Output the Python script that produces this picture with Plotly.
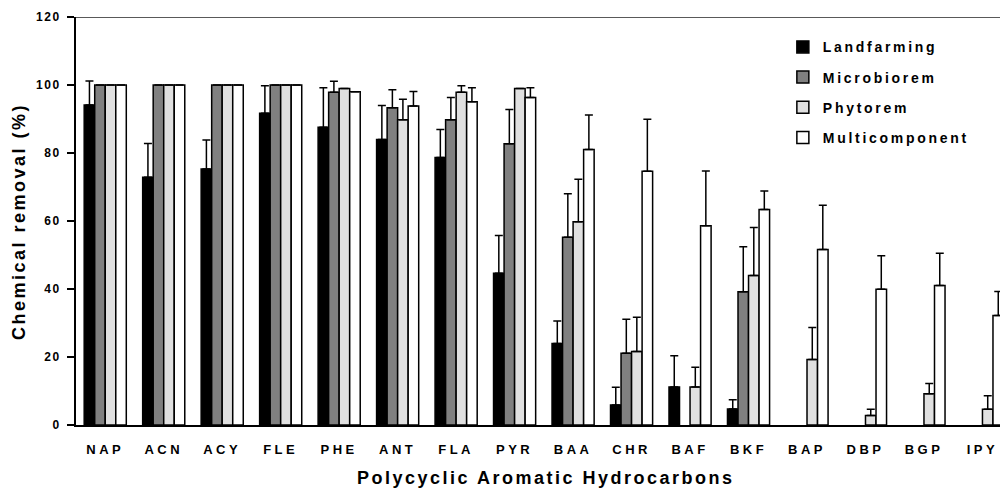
import plotly.graph_objects as go

categories = ["NAP", "ACN", "ACY", "FLE", "PHE", "ANT", "FLA", "PYR",
              "BAA", "CHR", "BAF", "BKF", "BAP", "DBP", "BGP", "IPY"]

landfarming = [94.1, 72.9, 75.3, 91.7, 87.6, 84.0, 78.7, 44.6,
               24.0, 5.9, 11.2, 4.7, None, None, None, None]
landfarming_err = [7.1, 9.9, 8.5, 8.1, 11.6, 10.0, 8.2, 11.1,
                   6.6, 5.2, 9.2, 2.7, None, None, None, None]

microbiorem = [100, 100, 100, 100, 97.9, 93.3, 89.8, 82.7,
               55.2, 21.1, None, 39.2, None, None, None, None]
microbiorem_err = [0, 0, 0, 0, 3.2, 5.3, 6.5, 10.1,
                   12.8, 10.0, None, 13.2, None, None, None, None]

phytorem = [100, 100, 100, 100, 99.0, 89.8, 97.9, 99.0,
            59.8, 21.6, 11.2, 44.0, 19.3, 2.8, 9.2, 4.6]
phytorem_err = [0, 0, 0, 0, 0, 6.0, 1.9, 0,
                12.5, 10.1, 5.8, 14.1, 9.4, 1.8, 3.0, 4.0]

multicomponent = [100, 100, 100, 100, 98.0, 93.8, 95.1, 96.3,
                  81.0, 74.6, 58.6, 63.4, 51.6, 39.9, 41.0, 32.2]
multicomponent_err = [0, 0, 0, 0, 0, 4.3, 4.1, 2.9,
                      10.2, 15.3, 16.1, 5.4, 13.0, 9.9, 9.5, 7.1]

series = [
    ("Landfarming", landfarming, landfarming_err, "#000000"),
    ("Microbiorem", microbiorem, microbiorem_err, "#808080"),
    ("Phytorem", phytorem, phytorem_err, "#e0e0e0"),
    ("Multicomponent", multicomponent, multicomponent_err, "#ffffff"),
]

FONT = "Liberation Sans, Arial, sans-serif"

fig = go.Figure()
for name, vals, errs, color in series:
    fig.add_trace(go.Bar(
        x=categories, y=vals, name=name, legendgroup=name,
        marker=dict(color=color, line=dict(color="#000000", width=1.5)),
        error_y=dict(type="data", array=errs, symmetric=False,
                     arrayminus=[0] * len(errs),
                     color="#000000", thickness=1.5, width=4),
    ))

fig.update_layout(
    width=1000, height=497,
    margin=dict(l=76, r=0, t=17, b=72),
    paper_bgcolor="white", plot_bgcolor="white",
    barmode="group", bargap=0.28, bargroupgap=0,
    font=dict(family=FONT, color="#000000"),
    showlegend=True,
    legend=dict(x=0.765, xanchor="left", y=0.965, yanchor="top",
                font=dict(size=14, family=FONT, weight="bold"),
                tracegroupgap=9, traceorder="grouped",
                bgcolor="rgba(0,0,0,0)"),
    xaxis=dict(range=[-0.5, 15.3], showline=True, linecolor="#000000",
               linewidth=2, ticks="", showgrid=False, zeroline=False,
               tickfont=dict(size=13, family=FONT, weight="bold"),
               ticklabelstandoff=11),
    yaxis=dict(range=[0, 120], dtick=20, showline=True, linecolor="#000000",
               linewidth=2, ticks="outside", ticklen=7, tickwidth=2,
               tickcolor="#000000", showgrid=False, zeroline=False,
               tickfont=dict(size=12, family=FONT, weight="bold"),
               ticklabelstandoff=4),
    shapes=[dict(type="line", xref="paper", yref="y", x0=0, x1=1, y0=120, y1=120,
                 line=dict(color="#222222", width=1.5))],
    annotations=[
        dict(text="Polycyclic Aromatic Hydrocarbons", xref="paper", yref="paper",
             x=0.5076, y=-0.13, xanchor="center", yanchor="middle", showarrow=False,
             font=dict(size=18, family=FONT, weight="bold")),
        dict(text="Chemical removal (%)", xref="paper", yref="paper",
             x=-0.0617, y=0.5, xanchor="center", yanchor="middle", showarrow=False,
             textangle=-90, font=dict(size=18, family=FONT, weight="bold")),
    ],
)

post = """
document.body.style.margin = '0';
var gd = document.getElementsByClassName('plotly-graph-div')[0];
function sp(sel, v){ gd.querySelectorAll(sel).forEach(function(t){ t.style.letterSpacing = v; }); }
sp('.xtick text', '3.5px');
sp('.ytick text', '1.5px');
sp('.legendtext', '2.7px');
sp('.annotation-text', '2.5px');
gd.querySelectorAll('.legend [clip-path]').forEach(function(e){ e.removeAttribute('clip-path'); });
gd.querySelectorAll('.annotation [clip-path]').forEach(function(e){ e.removeAttribute('clip-path'); });
"""

fig.write_html("out.html", post_script=post, config={"displayModeBar": False})
